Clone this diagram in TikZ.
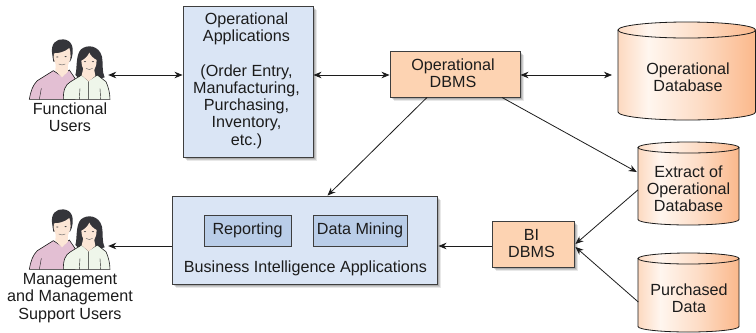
\documentclass[tikz,border=0pt]{standalone}
\usepackage{fontspec}
\setmainfont{Liberation Sans}
\usetikzlibrary{arrows.meta,shadows}
\definecolor{ink}{HTML}{1C1C1C}
\definecolor{paleblue}{HTML}{DAE5F5}
\definecolor{midblue}{HTML}{B9CDE8}
\definecolor{peach}{HTML}{FDD3B2}
\definecolor{cylleft}{HTML}{FDD9C0}
\definecolor{cyllight}{HTML}{FFF6EF}
\definecolor{cylmid}{HTML}{FDDCC5}
\definecolor{cylright}{HTML}{FBB88B}
\definecolor{manshirt}{HTML}{E3BFD3}
\definecolor{womanshirt}{HTML}{EFF6EA}
\definecolor{skin}{HTML}{FCE6D6}
\definecolor{hair}{HTML}{35353A}
\pgfdeclarehorizontalshading{cylshade}{100bp}{color(0bp)=(cylleft);color(25bp)=(cylleft);color(36bp)=(cyllight);color(55bp)=(cylmid);color(75bp)=(cylright);color(100bp)=(cylright)}
\tikzset{
  softshadow/.style={general shadow={shadow xshift=2bp,shadow yshift=-2bp,fill=black,opacity=.14},
    general shadow={shadow xshift=3bp,shadow yshift=-3bp,fill=black,opacity=.12},
    general shadow={shadow xshift=4bp,shadow yshift=-4bp,fill=black,opacity=.09}},
  txt/.style={font=\fontsize{16.2}{17.3}\selectfont,text=ink,align=center,inner sep=0pt},
  box/.style={txt,draw=ink!85,line width=.9bp},
  bluebox/.style={box,fill=paleblue,softshadow},
  orangebox/.style={box,fill=peach,softshadow},
  innerbox/.style={box,fill=midblue},
  cylnode/.style={txt},
  usersarea/.style={inner sep=0pt,minimum width=81bp,minimum height=50bp},
  arr/.style={draw=ink,line width=.8bp,-{Stealth[length=8bp,width=6.5bp,inset=2.5bp]}},
  dblarr/.style={draw=ink,line width=.8bp,{Stealth[length=8bp,width=6.5bp,inset=2.5bp]}-{Stealth[length=8bp,width=6.5bp,inset=2.5bp]}},
  outl/.style={draw=ink,line width=.6bp},
  people/.pic={
    \begin{scope}[x=.3333bp,y=-.3333bp]
      % man
      \path[fill=manshirt,outl] (88,238) .. controls (92,215) and (98,195) .. (112,182) -- (160,152) -- (185,168) -- (208,150) -- (225,175) -- (225,238) -- cycle;
      \path[fill=skin] (168,125) -- (204,125) -- (204,155) -- (186,172) -- (166,152) -- cycle;
      \fill[hair] (157,105) .. controls (150,70) and (170,56) .. (190,58) .. controls (214,60) and (224,80) .. (215,115) -- (210,125) -- (160,125) -- cycle;
      \path[fill=skin] (162,100) .. controls (175,100) and (195,96) .. (208,84) .. controls (214,100) and (212,120) .. (208,125) .. controls (203,142) and (194,147) .. (186,147) .. controls (176,147) and (168,140) .. (164,125) .. controls (160,118) and (160,108) .. (162,100) -- cycle;
      \fill[hair] (172,111) ellipse[x radius=1.2bp,y radius=.5bp] (197,110) ellipse[x radius=1.2bp,y radius=.5bp];
      \draw[ink!70,line width=.4bp] (176,132) .. controls (182,136) and (190,136) .. (196,132);
      % woman
      \fill[hair] (226,165) .. controls (232,150) and (226,105) .. (243,88) .. controls (262,72) and (297,76) .. (306,110) .. controls (310,130) and (305,155) .. (314,172) -- (280,182) -- (240,178) -- cycle;
      \path[fill=womanshirt,outl] (190,238) .. controls (190,210) and (195,195) .. (212,185) -- (245,165) -- (265,182) -- (292,165) -- (318,185) .. controls (325,200) and (330,220) .. (330,238) -- cycle;
      \path[fill=skin] (250,145) -- (282,145) -- (286,168) -- (266,184) -- (245,166) -- cycle;
      \path[fill=skin] (244,122) .. controls (254,118) and (264,108) .. (268,98) .. controls (272,108) and (282,116) .. (290,120) .. controls (291,140) and (280,160) .. (267,161) .. controls (254,160) and (244,142) .. (244,122) -- cycle;
      \fill[hair] (255,125) ellipse[x radius=1.2bp,y radius=.5bp] (279,125) ellipse[x radius=1.2bp,y radius=.5bp];
      \draw[ink!70,line width=.4bp] (258,145) .. controls (264,150) and (272,150) .. (278,145);
      \draw[ink,line width=.4bp] (266,184) -- (266,238) (240,205) -- (238,238) (300,205) -- (302,238) (124,205) -- (118,238);
    \end{scope}
  }
}
\begin{document}
\begin{tikzpicture}[x=1bp,y=-1bp]
\newcommand{\cylshape}[5]{% x1 x2 ytop ybot ry
  \pgfmathsetmacro{\cyrx}{(#2-#1)/2}
  \pgfmathsetmacro{\cymx}{(#2+#1)/2}
  \pgfmathsetmacro{\cyym}{#3+#5}
  \pgfmathsetmacro{\cyyb}{#4-#5}
  \path[shading=cylshade,shading angle=0] (#1,\cyym) -- (#1,\cyyb) arc[start angle=180,end angle=360,x radius=\cyrx bp,y radius=#5 bp] -- (#2,\cyym) -- cycle;
  \draw[ink,line width=.8bp] (#1,\cyym) -- (#1,\cyyb) arc[start angle=180,end angle=360,x radius=\cyrx bp,y radius=#5 bp] -- (#2,\cyym);
  \path[shading=cylshade,shading angle=0] (\cymx,\cyym) ellipse[x radius=\cyrx bp,y radius=#5 bp];
  \draw[ink,line width=.8bp] (\cymx,\cyym) ellipse[x radius=\cyrx bp,y radius=#5 bp];
}
\useasboundingbox (0,0) rectangle (756,332);
\fill[white] (0,0) rectangle (756,332);

% cylinders
\cylshape{618}{755.6}{22}{120}{8}
\cylshape{638}{739}{142}{225}{5.5}
\cylshape{638}{739}{253}{332}{5.5}
\node[cylnode] (opdb) at (688,77.5) {Operational\\Database};
\node[cylnode,minimum width=101bp] (extract) at (688.5,188.5) {Extract of\\Operational\\Database};
\node[cylnode,minimum width=101bp] (purch) at (689,298.5) {Purchased\\Data};

% boxes
\node[bluebox,minimum width=130bp,minimum height=151bp] (opapps) at (248,81.5) {};
\node[txt] (opappstext) at (246.5,80.5) {Operational\\Applications\\[17.3pt](Order Entry,\\Manufacturing,\\Purchasing,\\Inventory,\\etc.)};
\node[orangebox,minimum width=130bp,minimum height=46bp] (opdbms) at (455,74) {};
\node[txt] (opdbmstext) at (453,73.5) {Operational\\DBMS};
\node[bluebox,minimum width=265bp,minimum height=88bp] (biapps) at (304.5,240) {};
\node[innerbox,minimum width=87bp,minimum height=31bp] (reporting) at (247.5,230.5) {Reporting};
\node[innerbox,minimum width=94bp,minimum height=31bp] (mining) at (360,230.5) {Data Mining};
\node[txt] (bilabel) at (305.5,268) {Business Intelligence Applications};
\node[orangebox,minimum width=82bp,minimum height=46bp] (bidbms) at (533,244) {};
\node[txt] (bidbmstext) at (531.5,243.5) {BI\\DBMS};

% people
\pic at (0,20) {people};
\pic at (0,190) {people};
\node[usersarea] (funcusers) at (69.5,75) {};
\node[usersarea] (mgmtusers) at (69.5,246) {};
\node[txt] (funclabel) at (70,117.5) {Functional\\Users};
\node[txt] (mgmtlabel) at (70,298) {Management\\and Management\\Support Users};

% connectors
\draw[dblarr] ([xshift=-2bp]funcusers.east) -- (opapps.west |- funcusers.east);
\draw[dblarr] (opapps.east |- funcusers.east) -- (opdbms.west |- funcusers.east);
\draw[dblarr] (opdbms.east |- funcusers.east) -- (612,75);
\draw[arr] ([xshift=-28bp]opdbms.south) -- ([xshift=23bp]biapps.north);
\draw[arr] ([xshift=47bp]opdbms.south) -- ([xshift=-1bp,yshift=16.5bp]extract.west);
\draw[arr] ([yshift=-1.5bp]extract.west) -- ([xshift=1bp]bidbms.east);
\draw[arr] ([yshift=-3.5bp]purch.west) -- ([xshift=1bp,yshift=-3bp]bidbms.east);
\draw[arr] (bidbms.west |- mgmtusers.east) -- ([xshift=1bp]biapps.east |- mgmtusers.east);
\draw[arr] (biapps.west |- mgmtusers.east) -- ([xshift=-2bp]mgmtusers.east);
\end{tikzpicture}
\end{document}
